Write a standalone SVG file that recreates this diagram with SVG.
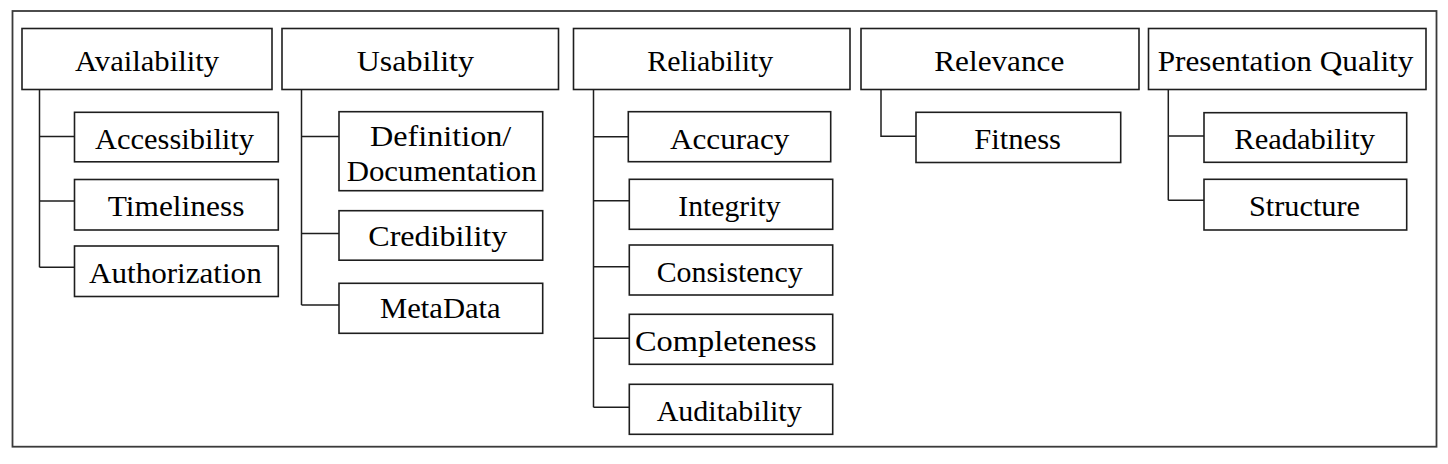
<svg xmlns="http://www.w3.org/2000/svg" width="1448" height="464" viewBox="0 0 1448 464">
<style>
.frame{fill:none;stroke:#3a3a3a;stroke-width:1.8}
.box{fill:#fff;stroke:#1e1e1e;stroke-width:1.6}
.t{font-family:"Liberation Serif","Times New Roman",serif;font-size:30px;fill:#000}
.c{fill:none;stroke:#1e1e1e;stroke-width:1.5}
</style>
<rect width="1448" height="464" fill="#fff"/>
<rect class="frame" x="12.5" y="11" width="1424" height="435.7"/>
<g id="connectors">
<path class="c" d="M39.5,89.5V267.3M39.5,136.5H74.5M39.5,201H74.5M39.5,267.3H74.5"/>
<path class="c" d="M301.5,89.5V305M301.5,136.5H339M301.5,233.5H339M301.5,305H339"/>
<path class="c" d="M593.5,89.5V407.3M593.5,136.7H628.3M593.5,200.7H629.3M593.5,266.7H629.3M593.5,338.3H629.3M593.5,407.3H629.3"/>
<path class="c" d="M881,89.5V136.3H916"/>
<path class="c" d="M1168.3,89.5V200.3M1168.3,136H1204M1168.3,200.3H1204"/>
</g>
<g id="availability"><rect class="box" x="22" y="28.5" width="250" height="61"/><text class="t" x="75" y="70.5" textLength="144" lengthAdjust="spacingAndGlyphs">Availability</text></g>
<g id="usability"><rect class="box" x="282" y="28.5" width="276.5" height="61"/><text class="t" x="356.7" y="70.5" textLength="117.3" lengthAdjust="spacingAndGlyphs">Usability</text></g>
<g id="reliability"><rect class="box" x="573.5" y="28.5" width="276.5" height="61"/><text class="t" x="647.3" y="70.5" textLength="126" lengthAdjust="spacingAndGlyphs">Reliability</text></g>
<g id="relevance"><rect class="box" x="861" y="28.5" width="278" height="61"/><text class="t" x="934.3" y="70.5" textLength="130" lengthAdjust="spacingAndGlyphs">Relevance</text></g>
<g id="presentation-quality"><rect class="box" x="1148.5" y="28.5" width="277.5" height="61"/><text class="t" x="1157.7" y="70.5" textLength="255.7" lengthAdjust="spacingAndGlyphs">Presentation Quality</text></g>
<g id="accessibility"><rect class="box" x="74.5" y="112.3" width="203.8" height="49.5"/><text class="t" x="95" y="149" textLength="159" lengthAdjust="spacingAndGlyphs">Accessibility</text></g>
<g id="timeliness"><rect class="box" x="74.5" y="179.5" width="203.8" height="50.5"/><text class="t" x="107.7" y="216" textLength="136.7" lengthAdjust="spacingAndGlyphs">Timeliness</text></g>
<g id="authorization"><rect class="box" x="74.5" y="246" width="203.8" height="50.5"/><text class="t" x="89" y="282.5" textLength="172.7" lengthAdjust="spacingAndGlyphs">Authorization</text></g>
<g id="definition-documentation"><rect class="box" x="339" y="111.7" width="203.7" height="79"/><text class="t" x="370" y="145.5" textLength="141.3" lengthAdjust="spacingAndGlyphs">Definition/</text><text class="t" x="346.7" y="180.5" textLength="190" lengthAdjust="spacingAndGlyphs">Documentation</text></g>
<g id="credibility"><rect class="box" x="339" y="210.7" width="203.7" height="49.5"/><text class="t" x="368.3" y="245.5" textLength="139" lengthAdjust="spacingAndGlyphs">Credibility</text></g>
<g id="metadata"><rect class="box" x="339" y="283.3" width="203.7" height="50"/><text class="t" x="380" y="318" textLength="120.7" lengthAdjust="spacingAndGlyphs">MetaData</text></g>
<g id="accuracy"><rect class="box" x="628.3" y="111.7" width="202.4" height="50"/><text class="t" x="670" y="148.8" textLength="119.3" lengthAdjust="spacingAndGlyphs">Accuracy</text></g>
<g id="integrity"><rect class="box" x="629.3" y="179.3" width="203.4" height="50"/><text class="t" x="678.3" y="216" textLength="102.3" lengthAdjust="spacingAndGlyphs">Integrity</text></g>
<g id="consistency"><rect class="box" x="629.3" y="245" width="203.4" height="50"/><text class="t" x="656.7" y="282" textLength="146" lengthAdjust="spacingAndGlyphs">Consistency</text></g>
<g id="completeness"><rect class="box" x="629.3" y="314.3" width="203.4" height="50"/><text class="t" x="635" y="351" textLength="181.7" lengthAdjust="spacingAndGlyphs">Completeness</text></g>
<g id="auditability"><rect class="box" x="629.3" y="384.3" width="203.4" height="50"/><text class="t" x="656.7" y="421" textLength="145" lengthAdjust="spacingAndGlyphs">Auditability</text></g>
<g id="fitness"><rect class="box" x="916" y="112.3" width="204.7" height="50.2"/><text class="t" x="974.3" y="149.3" textLength="86.7" lengthAdjust="spacingAndGlyphs">Fitness</text></g>
<g id="readability"><rect class="box" x="1204" y="112.7" width="202.7" height="49.6"/><text class="t" x="1234.3" y="149.3" textLength="140.7" lengthAdjust="spacingAndGlyphs">Readability</text></g>
<g id="structure"><rect class="box" x="1204" y="179.3" width="202.7" height="50.7"/><text class="t" x="1249" y="216" textLength="111" lengthAdjust="spacingAndGlyphs">Structure</text></g>
</svg>
